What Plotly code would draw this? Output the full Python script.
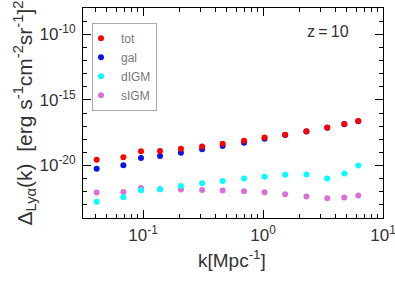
import plotly.graph_objects as go

k = [0.0411, 0.0686, 0.0962, 0.1386, 0.207, 0.311, 0.461, 0.695, 1.03, 1.53, 2.30, 3.43, 4.76, 6.22]
log_tot = [-19.57, -19.37, -18.92, -18.89, -18.72, -18.55, -18.34, -18.12, -17.87, -17.66, -17.39, -17.11, -16.83, -16.61]
log_gal = [-20.25, -19.98, -19.42, -19.27, -19.02, -18.77, -18.52, -18.27, -17.97, -17.68, -17.41, -17.13, -16.85, -16.63]
log_digm = [-22.77, -22.41, -21.88, -21.81, -21.56, -21.36, -21.18, -21.00, -20.85, -20.70, -20.68, -21.00, -20.60, -20.00]
log_sigm = [-22.06, -22.01, -21.71, -21.81, -21.83, -21.86, -21.91, -21.96, -22.03, -22.19, -22.36, -22.49, -22.43, -22.28]

x_tickvals = [0.1, 1, 10]
x_ticktext = ["10<sup>-1</sup>", "10<sup>0</sup>", "10<sup>1</sup>"]
y_tickvals = [1e-20, 1e-15, 1e-10]
y_ticktext = ["10<sup>-20</sup>", "10<sup>-15</sup>", "10<sup>-10</sup>"]

series = [
    ("tot", log_tot, "#ff0000"),
    ("gal", log_gal, "#0a14e6"),
    ("dIGM", log_digm, "#00ffff"),
    ("sIGM", log_sigm, "#da70d6"),
]
draw_order = ["sIGM", "dIGM", "gal", "tot"]

fig = go.Figure()
for name, vals, col in series:
    fig.add_trace(go.Scatter(
        x=k, y=[10 ** v for v in vals], mode="markers", name=name,
        marker=dict(color=col, size=6, line=dict(width=0)),
        legendrank={"tot": 1, "gal": 2, "dIGM": 3, "sIGM": 4}[name],
    ))
fig.data = tuple(sorted(fig.data, key=lambda t: draw_order.index(t.name)))

font = "Liberation Sans, Arial, sans-serif"
axis_common = dict(
    type="log", showline=True, linecolor="#000", linewidth=1, mirror="ticks",
    ticks="inside", ticklen=8, tickwidth=1, tickcolor="#000",
    showgrid=False, zeroline=False, automargin=False, ticklabeloverflow="allow",
)

fig.update_layout(
    width=395, height=281,
    margin=dict(l=83, r=12, t=8, b=63, autoexpand=False),
    paper_bgcolor="white", plot_bgcolor="white",
    font=dict(family=font, color="#333"),
    showlegend=True,
    legend=dict(
        x=0.03, y=0.93, xanchor="left", yanchor="top",
        bordercolor="#aaaaaa", borderwidth=1, bgcolor="rgba(255,255,255,0)",
        font=dict(family=font, size=12, color="#777"),
        indentation=-12, tracegroupgap=0, itemwidth=30,
    ),
    xaxis=dict(
        axis_common, range=[-1.5, 1],
        tickfont=dict(family=font, size=17, color="#333"),
        ticklabelstandoff=2,
        tickmode="array", tickvals=x_tickvals, ticktext=x_ticktext,
        minor=dict(tickmode="linear", dtick="D1", ticks="inside", ticklen=4, tickcolor="#000", showgrid=False),
    ),
    yaxis=dict(
        axis_common, range=[-24, -8],
        tickfont=dict(family=font, size=17, color="#333"),
        ticklabelstandoff=3,
        tickmode="array", tickvals=y_tickvals, ticktext=y_ticktext,
        minor=dict(tickmode="linear", dtick=1, ticks="inside", ticklen=4, tickcolor="#000", showgrid=False),
        title=dict(text="Δ<sub>Lyα</sub>(k)  [erg s<sup>-1</sup>cm<sup>-2</sup>sr<sup>-1</sup>]<sup>2</sup>",
                   font=dict(family=font, size=21, color="#333"), standoff=0),
    ),
    annotations=[
        dict(
            text="z\u2009=\u200910", xref="paper", yref="paper", x=0.893, y=0.89,
            xanchor="right", yanchor="middle", showarrow=False,
            font=dict(family=font, size=16, color="#333"),
        ),
        dict(
            text="k[Mpc<sup>-1</sup>]", xref="paper", yref="paper", x=0.495, y=-0.195,
            xanchor="center", yanchor="middle", showarrow=False,
            font=dict(family=font, size=19, color="#333"),
        ),
    ],
)

fig.write_html("out.html", config={"displayModeBar": False},
               post_script="document.body.style.margin='0';")
